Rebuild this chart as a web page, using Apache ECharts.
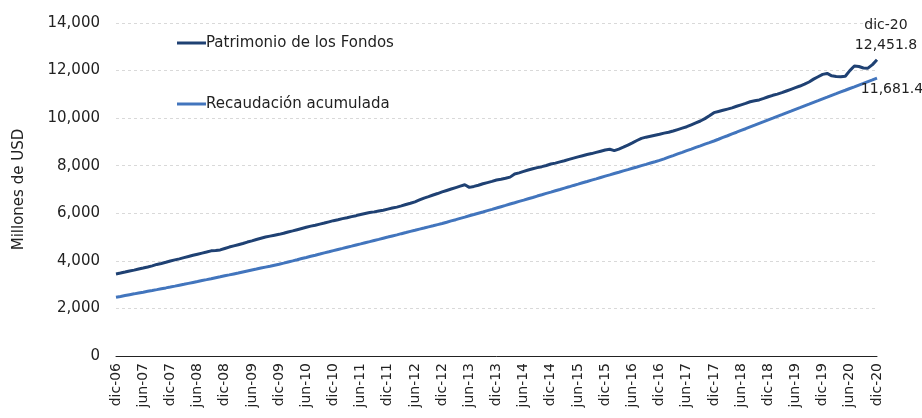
<!DOCTYPE html>
<html>
<head>
<meta charset="utf-8">
<script src="https://cdn.jsdelivr.net/npm/echarts@6/dist/echarts.min.js"></script>
<style>html,body{margin:0;padding:0;background:#fff}#c{width:922px;height:418px}</style>
</head>
<body>
<div id="c"></div>
<script>
const monthNames = ['ene','feb','mar','abr','may','jun','jul','ago','sep','oct','nov','dic'];
const years = ['07','08','09','10','11','12','13','14','15','16','17','18','19','20'];
const categories = ['dic-06'];
years.forEach(y => monthNames.forEach(m => categories.push(m + '-' + y)));

const seriesNames = ['Patrimonio de los Fondos', 'Recaudación acumulada'];

const patrimonio = [
  3450,
  3488, 3530, 3575, 3610, 3660, 3702, 3745, 3790, 3850, 3892, 3940, 3994,
  4040, 4085, 4135, 4185, 4235, 4280, 4325, 4370, 4420, 4435, 4460, 4520,
  4580, 4630, 4680, 4730, 4790, 4840, 4900, 4950, 5000, 5040, 5080, 5115,
  5160, 5215, 5260, 5310, 5360, 5410, 5460, 5500, 5545, 5590, 5640, 5690,
  5730, 5775, 5810, 5860, 5900, 5950, 5990, 6030, 6060, 6100, 6130, 6175,
  6220, 6260, 6310, 6370, 6420, 6480, 6560, 6640, 6700, 6770, 6830, 6900,
  6960, 7020, 7080, 7140, 7200, 7090, 7130, 7180, 7240, 7290, 7340, 7400,
  7430, 7470, 7520, 7650, 7700, 7760, 7820, 7870, 7920, 7960, 8010, 8070,
  8110, 8160, 8210, 8265, 8320, 8370, 8420, 8470, 8510, 8560, 8610, 8660,
  8690, 8635, 8700, 8780, 8870, 8960, 9060, 9150, 9200, 9240, 9280, 9320,
  9370, 9410, 9460, 9520, 9580, 9640, 9720, 9800, 9880, 9980, 10100, 10230,
  10280, 10330, 10380, 10430, 10500, 10560, 10620, 10690, 10730, 10765, 10830, 10900,
  10960, 11010, 11070, 11140, 11210, 11280, 11350, 11430, 11520, 11640, 11740, 11840,
  11880, 11780, 11750, 11745, 11760, 12000, 12190, 12170, 12110, 12100, 12250, 12451.8
];

const recaudacion = [
  2470,
  2505, 2541, 2577, 2613, 2650, 2684, 2720, 2755, 2791, 2828, 2863, 2900,
  2938, 2977, 3015, 3054, 3093, 3131, 3171, 3210, 3250, 3291, 3330, 3370,
  3410, 3451, 3490, 3532, 3573, 3614, 3654, 3696, 3737, 3777, 3819, 3860,
  3906, 3955, 4001, 4048, 4097, 4144, 4193, 4239, 4287, 4336, 4382, 4430,
  4478, 4524, 4573, 4619, 4668, 4714, 4763, 4809, 4858, 4904, 4953, 5000,
  5048, 5094, 5143, 5189, 5238, 5284, 5333, 5379, 5428, 5474, 5523, 5570,
  5623, 5679, 5731, 5788, 5840, 5896, 5948, 6004, 6056, 6112, 6165, 6220,
  6277, 6331, 6389, 6443, 6501, 6554, 6612, 6666, 6724, 6778, 6835, 6890,
  6947, 7001, 7059, 7113, 7171, 7224, 7282, 7336, 7394, 7448, 7505, 7560,
  7614, 7671, 7724, 7782, 7835, 7892, 7945, 8002, 8056, 8113, 8166, 8222,
  8289, 8359, 8426, 8496, 8562, 8632, 8698, 8769, 8835, 8905, 8971, 9040,
  9113, 9188, 9260, 9336, 9408, 9484, 9555, 9631, 9703, 9779, 9850, 9925,
  9998, 10074, 10145, 10221, 10293, 10369, 10440, 10516, 10588, 10664, 10735, 10810,
  10882, 10956, 11027, 11101, 11172, 11247, 11317, 11392, 11462, 11537, 11608, 11681.4
];

const yTicks = { min: 0, max: 14000, interval: 2000 };
const endLabelDark = 'dic-20\n12,451.8';
const endLabelLight = '11,681.4';

const colors = ['#1f4173', '#4275bd'];
const FONT = 'DejaVu Sans';

function withEndLabel(arr, labelCfg) {
  return arr.map((v, i) => i === arr.length - 1 ? { value: v, label: labelCfg } : v);
}

const chart = echarts.init(document.getElementById('c'), null, { renderer: 'canvas' });
chart.setOption({
  animation: false,
  backgroundColor: '#ffffff',
  textStyle: { fontFamily: FONT },
  grid: { left: 116, right: 45, top: 23, bottom: 62, containLabel: false },
  legend: {
    orient: 'vertical',
    left: 172,
    top: 29,
    itemGap: 43,
    itemWidth: 29,
    itemHeight: 3,
    icon: 'rect',
    data: seriesNames,
    textStyle: { fontFamily: FONT, fontSize: 15, color: '#222', lineHeight: 18, padding: [0, 0, 0, -5] }
  },
  xAxis: {
    type: 'category',
    boundaryGap: false,
    data: categories,
    axisLine: { show: true, lineStyle: { color: '#222', width: 1 } },
    axisTick: { show: false },
    axisLabel: {
      interval: 5,
      rotate: 90,
      margin: 7,
      fontFamily: FONT,
      fontSize: 14,
      color: '#222'
    },
    splitLine: { show: false }
  },
  yAxis: {
    type: 'value',
    min: yTicks.min,
    max: yTicks.max,
    interval: yTicks.interval,
    name: 'Millones de USD',
    nameLocation: 'middle',
    nameRotate: 90,
    nameGap: 89,
    nameTextStyle: { fontFamily: FONT, fontSize: 15, color: '#222' },
    axisLine: { show: false },
    axisTick: { show: false },
    axisLabel: {
      margin: 16,
      fontFamily: FONT,
      fontSize: 15,
      color: '#222',
      formatter: v => v.toLocaleString('en-US')
    },
    splitLine: { show: true, lineStyle: { color: '#d9d9d9', type: [3, 3], width: 1 } }
  },
  series: [
    {
      name: seriesNames[0],
      type: 'line',
      data: withEndLabel(patrimonio, {
        show: true, position: 'top', offset: [9, 1],
        formatter: endLabelDark, fontFamily: FONT, fontSize: 14, lineHeight: 20, color: '#222', align: 'center'
      }),
      symbol: 'circle',
      symbolSize: 0,
      showSymbol: true,
      showAllSymbol: true,
      lineStyle: { color: colors[0], width: 3 },
      itemStyle: { color: colors[0] },
      z: 3
    },
    {
      name: seriesNames[1],
      type: 'line',
      data: withEndLabel(recaudacion, {
        show: true, position: 'bottom', offset: [15, -1],
        formatter: endLabelLight, fontFamily: FONT, fontSize: 14, color: '#222'
      }),
      symbol: 'circle',
      symbolSize: 0,
      showSymbol: true,
      showAllSymbol: true,
      lineStyle: { color: colors[1], width: 3 },
      itemStyle: { color: colors[1] },
      z: 2
    }
  ]
});
</script>
</body>
</html>
